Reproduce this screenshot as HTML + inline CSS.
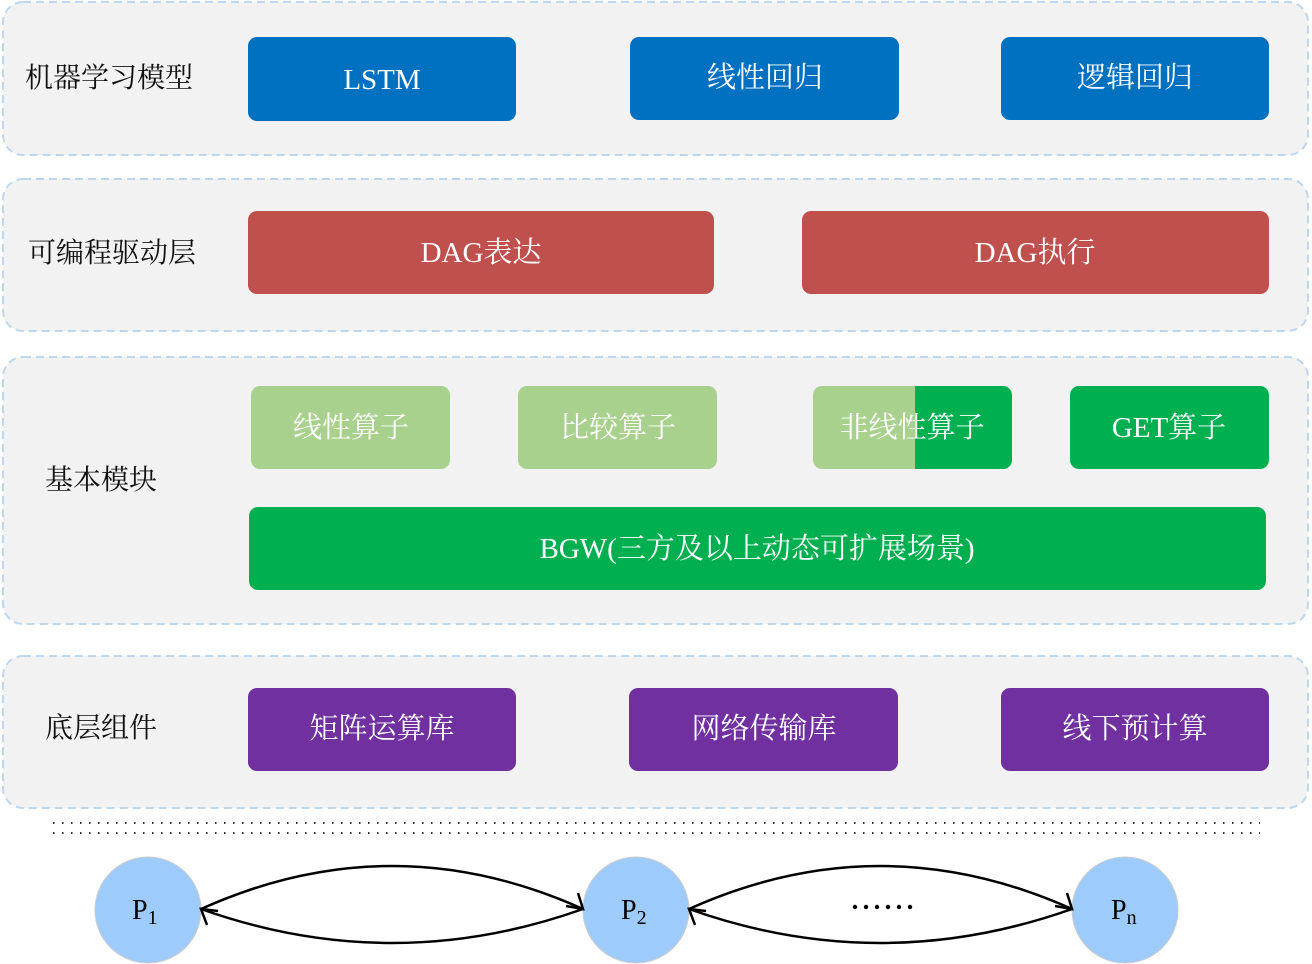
<!DOCTYPE html>
<html><head><meta charset="utf-8"><style>
html,body{margin:0;padding:0;background:#fff;width:1312px;height:964px;overflow:hidden}
svg text{font-family:"Liberation Serif","Noto Serif CJK SC",serif}
</style></head><body>
<svg width="1312" height="964" viewBox="0 0 1312 964" xmlns="http://www.w3.org/2000/svg">
<g fill="#f2f2f2" stroke="#bdd7ee" stroke-width="2" stroke-dasharray="8,5">
<rect x="3" y="2" width="1305" height="153" rx="20"/>
<rect x="3" y="179" width="1305" height="152" rx="20"/>
<rect x="3" y="357" width="1305" height="267" rx="20"/>
<rect x="3" y="656" width="1305" height="152" rx="20"/>
</g>
<g font-size="28" fill="#111">
<text x="25" y="87">机器学习模型</text>
<text x="28" y="262">可编程驱动层</text>
<text x="45" y="489">基本模块</text>
<text x="45" y="737">底层组件</text>
</g>
<g fill="#0070c0">
<rect x="248" y="37" width="268" height="84" rx="9"/>
<rect x="630" y="37" width="269" height="83" rx="9"/>
<rect x="1001" y="37" width="268" height="83" rx="9"/>
</g>
<g fill="#c0504d">
<rect x="248" y="211" width="466" height="83" rx="9"/>
<rect x="802" y="211" width="467" height="83" rx="9"/>
</g>
<g fill="#a9d18e">
<rect x="251" y="386" width="199" height="83" rx="9"/>
<rect x="518" y="386" width="199" height="83" rx="9"/>
<rect x="813" y="386" width="199" height="83" rx="9"/>
</g>
<rect x="915" y="386" width="97" height="83" rx="9" fill="#00b050"/>
<rect x="915" y="386" width="20" height="83" fill="#00b050"/>
<rect x="1070" y="386" width="199" height="83" rx="9" fill="#00b050"/>
<rect x="249" y="507" width="1017" height="83" rx="9" fill="#00b050"/>
<g fill="#7030a0">
<rect x="248" y="688" width="268" height="83" rx="9"/>
<rect x="629" y="688" width="269" height="83" rx="9"/>
<rect x="1001" y="688" width="268" height="83" rx="9"/>
</g>
<g font-size="29" fill="#fff" text-anchor="middle">
<text x="382" y="89">LSTM</text>
<text x="765" y="87">线性回归</text>
<text x="1135" y="87">逻辑回归</text>
<text x="481" y="262">DAG表达</text>
<text x="1035" y="262">DAG执行</text>
<text x="351" y="437">线性算子</text>
<text x="618" y="437">比较算子</text>
<text x="912" y="437">非线性算子</text>
<text x="1169" y="437">GET算子</text>
<text x="757" y="558">BGW(三方及以上动态可扩展场景)</text>
<text x="382" y="738">矩阵运算库</text>
<text x="764" y="738">网络传输库</text>
<text x="1135" y="738">线下预计算</text>
</g>
<g stroke="#333" stroke-width="2" stroke-dasharray="1.5,7.5">
<line x1="53" y1="823" x2="1260" y2="823"/>
<line x1="53" y1="833" x2="1260" y2="833"/>
</g>
<g fill="#9dcbfc" stroke="#ccc" stroke-width="1">
<circle cx="148" cy="910" r="53"/>
<circle cx="636" cy="910" r="53"/>
<circle cx="1125" cy="910" r="53"/>
</g>
<g fill="none" stroke="#000" stroke-width="2.5">
<path d="M201 909 Q392 823 583 909"/>
<path d="M201 909 Q392 977 583 909"/>
<path d="M689 909 Q880 823 1072 909"/>
<path d="M689 909 Q880 977 1072 909"/>
<path d="M566 906 L583 909 L578 893"/>
<path d="M1055 906 L1072 909 L1067 893"/>
<path d="M218 911 L201 909 L207 925"/>
<path d="M706 911 L689 909 L695 925"/>
</g>
<g fill="#000">
<circle cx="855" cy="907" r="2.2"/><circle cx="866" cy="907" r="2.2"/><circle cx="877" cy="907" r="2.2"/>
<circle cx="888" cy="907" r="2.2"/><circle cx="899" cy="907" r="2.2"/><circle cx="910" cy="907" r="2.2"/>
</g>
<g font-size="28" fill="#000">
<text x="132" y="919">P<tspan font-size="20" dy="5">1</tspan></text>
<text x="621" y="919">P<tspan font-size="20" dy="5">2</tspan></text>
<text x="1111" y="919">P<tspan font-size="20" dy="5">n</tspan></text>
</g>
</svg>
</body></html>
